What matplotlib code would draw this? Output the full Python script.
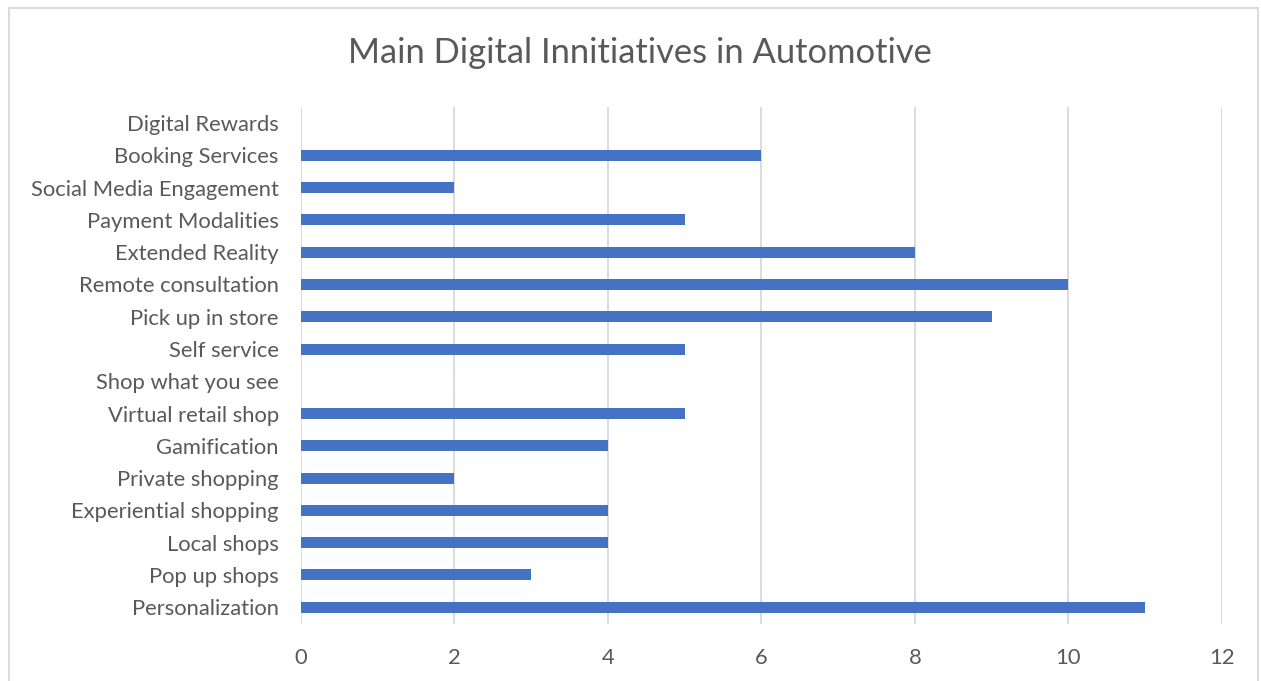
import matplotlib.pyplot as plt
from matplotlib.patches import Rectangle

categories = ["Personalization", "Pop up shops", "Local shops", "Experiential shopping",
              "Private shopping", "Gamification", "Virtual retail shop", "Shop what you see",
              "Self service", "Pick up in store", "Remote consultation", "Extended Reality",
              "Payment Modalities", "Social Media Engagement", "Booking Services", "Digital Rewards"]
values = [11, 3, 4, 4, 2, 4, 5, 0, 5, 9, 10, 8, 5, 2, 6, 0]
xticks = [0, 2, 4, 6, 8, 10, 12]

plt.rcParams['font.family'] = ['Lato', 'DejaVu Sans']
text_color = '#595959'

fig = plt.figure(figsize=(12.61, 6.81), dpi=100)
ax = fig.add_axes([0.2387, 0.0837, 0.7303, 0.7592])

ax.barh(range(len(categories)), values, height=0.34, color='#4472C4', zorder=3)
ax.set_xlim(0, 12)
ax.set_ylim(-0.52, 15.5)
ax.set_xticks(xticks)
ax.set_yticks(range(len(categories)))
ax.set_yticklabels(categories)
ax.tick_params(axis='both', length=0, colors=text_color, labelsize=15.8)
ax.tick_params(axis='x', pad=17)
ax.tick_params(axis='y', pad=16)
ax.grid(axis='x', color='#d9d9d9', linewidth=1.3, zorder=0)
for s in ax.spines.values():
    s.set_visible(False)

fig.text(0.5075, 0.922, "Main Digital Innitiatives in Automotive", ha='center', va='center',
         fontsize=24.8, color=text_color)

# outer chart border
fig.patches.append(Rectangle((9 / 1261, -0.01), 1249 / 1261, 1 - 8.5 / 681 + 0.01,
                             transform=fig.transFigure, fill=False, edgecolor='#d9d9d9',
                             linewidth=1.3))

plt.savefig("out.png", dpi=100)
